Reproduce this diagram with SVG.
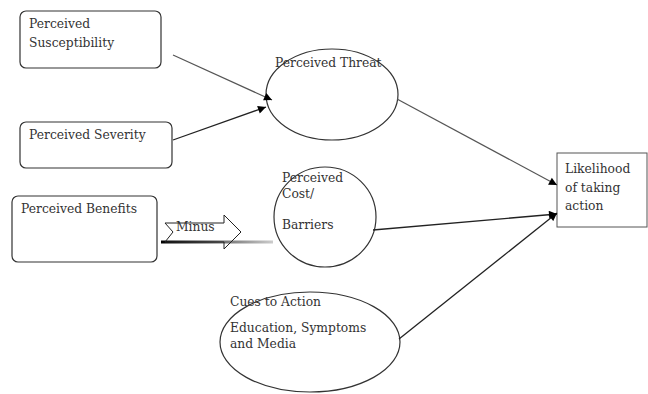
<svg xmlns="http://www.w3.org/2000/svg" width="648" height="394" viewBox="0 0 648 394">
<style>
.bx{fill:#fff;stroke:#333;stroke-width:1.2}
.el{fill:#fff;stroke:#333;stroke-width:1.2}
.t{font-family:"DejaVu Serif","Liberation Serif",serif;font-size:12.3px;fill:#333}
.ln{stroke:#222;stroke-width:1.3;fill:none}
.lg{stroke:#555;stroke-width:1.2;fill:none}
</style>
<defs>
<marker id="ah" viewBox="0 0 10 10" refX="10" refY="5" markerWidth="9" markerHeight="8" markerUnits="userSpaceOnUse" orient="auto">
<path d="M0,0 L10,5 L0,10 z" fill="#000"/>
</marker>
<linearGradient id="gr" gradientUnits="userSpaceOnUse" x1="161" y1="0" x2="273" y2="0">
<stop offset="0" stop-color="#000"/>
<stop offset="0.5" stop-color="#666"/>
<stop offset="1" stop-color="#ccc"/>
</linearGradient>
</defs>
<rect width="648" height="394" fill="#fff"/>
<g id="susceptibility">
<rect class="bx" x="20" y="11" width="141" height="57" rx="6"/>
<text class="t" x="29" y="28">Perceived</text>
<text class="t" x="29" y="47">Susceptibility</text>
</g>
<g id="severity">
<rect class="bx" x="20" y="122" width="152" height="46" rx="6"/>
<text class="t" x="29" y="139">Perceived Severity</text>
</g>
<g id="benefits">
<rect class="bx" x="12" y="196" width="145" height="66" rx="6"/>
<text class="t" x="21" y="213">Perceived Benefits</text>
</g>
<g id="threat">
<ellipse class="el" cx="332" cy="94.5" rx="66" ry="45.5"/>
<text class="t" x="275" y="67">Perceived Threat</text>
</g>
<g id="cost">
<ellipse class="el" cx="325" cy="217" rx="51" ry="50"/>
<text class="t" x="282" y="182">Perceived</text>
<text class="t" x="282" y="198">Cost/</text>
<text class="t" x="282" y="229">Barriers</text>
</g>
<g id="cues">
<ellipse class="el" cx="310" cy="342" rx="90" ry="50"/>
<text class="t" x="230" y="306">Cues to Action</text>
<text class="t" x="230" y="332">Education, Symptoms</text>
<text class="t" x="230" y="348">and Media</text>
</g>
<g id="likelihood">
<rect x="557" y="153" width="90" height="74" fill="#fff" stroke="#555" stroke-width="1"/>
<text class="t" x="565" y="173" font-size="13">Likelihood</text>
<text class="t" x="565" y="192" font-size="13">of taking</text>
<text class="t" x="565" y="210" font-size="13">action</text>
</g>
<g id="minus">
<rect x="161" y="240.5" width="112" height="3" fill="url(#gr)"/>
<path d="M165,223 L224,223 L224,215 L241,232 L224,249 L224,242 L165,242 L173,232 Z" fill="none" stroke="#222" stroke-width="1"/>
<text class="t" x="176" y="231">Minus</text>
</g>
<g id="connectors">
<line class="lg" x1="173" y1="55" x2="272" y2="100" marker-end="url(#ah)"/>
<line class="ln" x1="173" y1="140" x2="266" y2="107" marker-end="url(#ah)"/>
<line class="lg" x1="397" y1="99" x2="557" y2="185" marker-end="url(#ah)"/>
<line class="ln" x1="373" y1="230" x2="557" y2="214" marker-end="url(#ah)"/>
<line class="ln" x1="399" y1="339" x2="557" y2="213" marker-end="url(#ah)"/>
</g>
</svg>
